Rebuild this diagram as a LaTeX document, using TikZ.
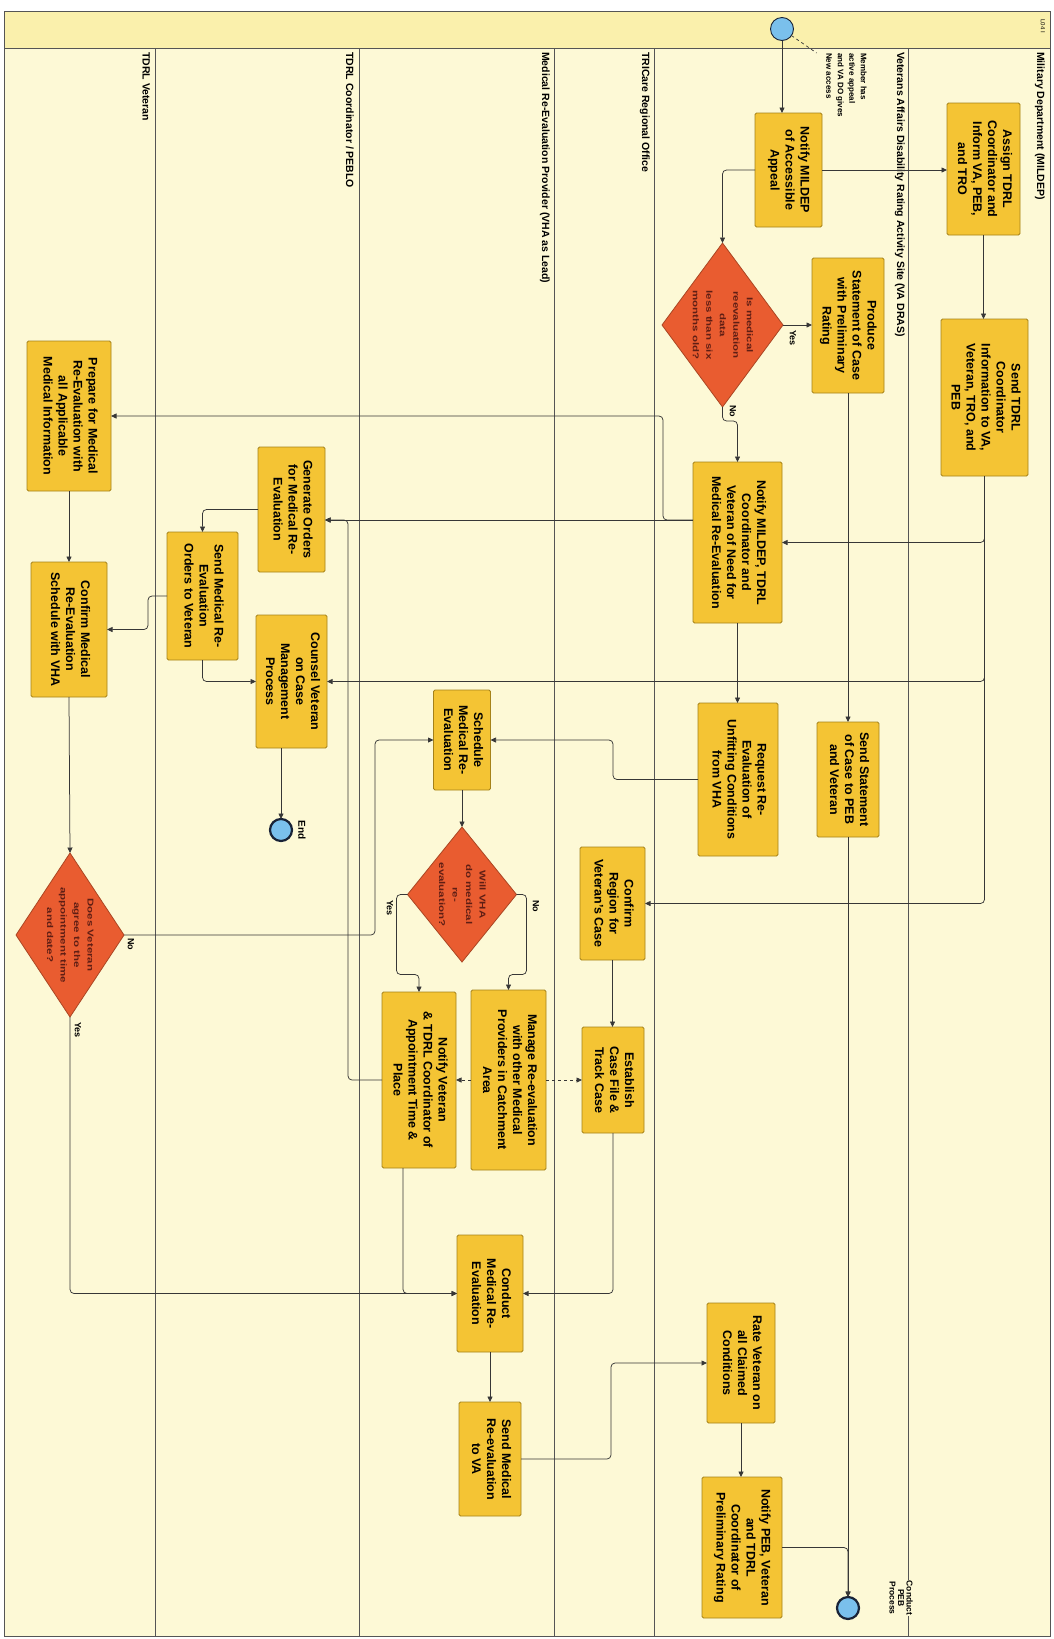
\documentclass[tikz,border=0pt]{standalone}
\usepackage{fontspec}
\setmainfont{Liberation Sans}
\newfontfamily\dfont{Liberation Sans}[FakeStretch=1.35]
\usetikzlibrary{arrows.meta,shapes.geometric,calc}
\definecolor{bg}{RGB}{253,249,214}
\definecolor{hdr}{RGB}{250,240,172}
\definecolor{boxfill}{RGB}{244,196,52}
\definecolor{boxline}{RGB}{165,130,25}
\definecolor{dfill}{RGB}{233,92,48}
\definecolor{dline}{RGB}{170,70,35}
\definecolor{dtextc}{RGB}{95,30,20}
\definecolor{linec}{RGB}{55,55,55}
\definecolor{lanec}{RGB}{85,85,85}
\definecolor{evfill}{RGB}{122,192,236}
\definecolor{evline}{RGB}{25,35,55}
\newcommand{\rt}[1]{\rotatebox{-90}{\begin{tabular}{@{}c@{}}#1\end{tabular}}}
\newcommand{\rtl}[1]{\rotatebox{-90}{\begin{tabular}{@{}l@{}}#1\end{tabular}}}
\begin{document}
\begin{tikzpicture}[x=1pt,y=-1pt,
  task/.style={draw=boxline, fill=boxfill, line width=0.9pt, rounded corners=1.5pt, inner sep=0pt, outer sep=0pt, font=\fontsize{12.5}{15}\selectfont\bfseries},
  decision/.style={diamond, draw=dline, fill=dfill, line width=0.8pt, inner sep=0pt, outer sep=0pt},
  dtext/.style={inner sep=0pt, font=\dfont\fontsize{8.5}{13.5}\selectfont\bfseries, text=dtextc},
  flow/.style={draw=linec, line width=0.75pt, rounded corners=4pt, -{Triangle[length=5.5pt,width=5pt]}},
  msg/.style={flow, dashed},
  lane/.style={draw=lanec, line width=0.7pt},
  lanelbl/.style={inner sep=0pt, font=\fontsize{10.5}{12}\selectfont\bfseries, anchor=north east},
  yn/.style={inner sep=0pt, font=\fontsize{9}{10}\selectfont\bfseries},
  evt/.style={circle, draw=evline, fill=evfill, inner sep=0pt, outer sep=0pt, minimum size=23pt, line width=0.9pt},
  endevt/.style={evt, line width=2.2pt, minimum size=22pt}
]
\useasboundingbox (0,0) rectangle (1053,1639);
\fill[white] (0,0) rectangle (1053,1639);
\draw[fill=bg, draw=lanec, line width=0.8pt] (4,11) rectangle (1050,1636);
\draw[fill=hdr, draw=lanec, line width=0.8pt] (4,11) rectangle (1050,48);
% lane separators
\foreach \lx in {155,359,554,654,908} { \draw[lane] (\lx,48) -- (\lx,1636); }
% lane labels
\node[lanelbl] (l1) at (1045,52) {\rotatebox{-90}{Military Department (MILDEP)}};
\node[lanelbl] (l2) at (905,52) {\rotatebox{-90}{Veterans Affairs Disability Rating Activity Site (VA DRAS)}};
\node[lanelbl] (l3) at (650,52) {\rotatebox{-90}{TRICare Regional Office}};
\node[lanelbl] (l4) at (550,52) {\rotatebox{-90}{Medical Re-Evaluation Provider (VHA as Lead)}};
\node[lanelbl] (l5) at (354,52) {\rotatebox{-90}{TDRL Coordinator / PEBLO}};
\node[lanelbl] (l6) at (150,52) {\rotatebox{-90}{TDRL Veteran}};
\node[inner sep=0pt, font=\fontsize{6}{7}\selectfont] (corner) at (1043,26) {\rotatebox{-90}{L04 I}};

% events
\node[evt] (start) at (782,29) {};
\node[inner sep=0pt, anchor=north east, font=\fontsize{8}{11.5}\selectfont\bfseries] (annot) at (869,53) {\rtl{Member has\\active appeal\\and VA DO gives\\New access}};
\node[endevt] (end) at (281,830) {};
\node[inner sep=0pt, font=\fontsize{10}{12}\selectfont\bfseries, anchor=west] (endlbl) at (298,830) {\rotatebox{-90}{End}};
\node[endevt] (endPEB) at (848,1608) {};
\node[inner sep=1pt, fill=bg, font=\fontsize{8.5}{8.5}\selectfont\bfseries] (peblbl) at (900,1598) {\rt{Conduct\\PEB\\Process}};

% tasks
\node[task, minimum width=67pt, minimum height=114pt] (nAcc) at (788.5,170) {\rt{Notify MILDEP\\of Accessible\\Appeal}};
\node[task, minimum width=73pt, minimum height=132pt] (assign) at (983.5,169) {\rt{Assign TDRL\\Coordinator and\\Inform VA, PEB,\\and TRO}};
\node[task, minimum width=87pt, minimum height=157pt] (sendInfo) at (984.5,397.5) {\rt{Send TDRL\\Coordinator\\Information to VA,\\Veteran, TRO, and\\PEB}};
\node[task, minimum width=72pt, minimum height=135pt] (produce) at (848,325.5) {\rt{Produce\\Statement of Case\\with Preliminary\\Rating}};
\node[task, minimum width=89pt, minimum height=161pt] (nNeed) at (737.5,542.5) {\rt{Notify MILDEP, TDRL\\Coordinator and\\Veteran of Need for\\Medical Re-Evaluation}};
\node[task, minimum width=80pt, minimum height=153pt] (request) at (738,779.5) {\rt{Request Re-\\Evaluation of\\Unfitting Conditions\\from VHA}};
\node[task, minimum width=62pt, minimum height=115pt] (sendStmt) at (848,779.5) {\rt{Send Statement\\of Case to PEB\\and Veteran}};
\node[task, minimum width=65pt, minimum height=113pt] (confReg) at (612.5,903.5) {\rt{Confirm\\Region for\\Veteran's Case}};
\node[task, minimum width=62pt, minimum height=106pt] (estab) at (613,1080) {\rt{Establish\\Case File \&\\Track Case}};
\node[task, minimum width=57pt, minimum height=100pt] (sched) at (462,740) {\rt{Schedule\\Medical Re-\\Evaluation}};
\node[task, minimum width=75pt, minimum height=180pt] (manage) at (508.5,1080) {\rt{Manage Re-evaluation\\with other Medical\\Providers in Catchment\\Area}};
\node[task, minimum width=74pt, minimum height=176pt] (nAppt) at (419,1080) {\rt{Notify Veteran\\\& TDRL Coordinator of\\Appointment Time \&\\Place}};
\node[task, minimum width=66pt, minimum height=117pt] (conduct) at (490,1293.5) {\rt{Conduct\\Medical Re-\\Evaluation}};
\node[task, minimum width=62pt, minimum height=114pt] (sendVA) at (490,1459) {\rt{Send Medical\\Re-evaluation\\to VA}};
\node[task, minimum width=68pt, minimum height=120pt] (rate) at (741,1363) {\rt{Rate Veteran on\\all Claimed\\Conditions}};
\node[task, minimum width=80pt, minimum height=141pt] (nPEB) at (742,1547.5) {\rt{Notify PEB, Veteran\\and TDRL\\Coordinator of\\Preliminary Rating}};
\node[task, minimum width=67pt, minimum height=125pt] (genOrd) at (291.5,509.5) {\rt{Generate Orders\\for Medical Re-\\Evaluation}};
\node[task, minimum width=71pt, minimum height=128pt] (sendOrd) at (202.5,596) {\rt{Send Medical Re-\\Evaluation\\Orders to Veteran}};
\node[task, minimum width=71pt, minimum height=133pt] (counsel) at (291.5,681.5) {\rt{Counsel Veteran\\on Case\\Management\\Process}};
\node[task, minimum width=84pt, minimum height=150pt] (prep) at (69,416) {\rt{Prepare for Medical\\Re-Evaluation with\\all Applicable\\Medical Information}};
\node[task, minimum width=76pt, minimum height=135pt] (confSch) at (69,629.5) {\rt{Confirm Medical\\Re-Evaluation\\Schedule with VHA}};

% decisions
\node[decision, minimum width=121pt, minimum height=164pt] (d1) at (722.5,325) {};
\node[dtext] (d1t) at (d1) {\rt{Is medical\\reevaluation\\data\\less than six\\months old?}};
\node[decision, minimum width=109pt, minimum height=135pt] (d2) at (462,894.5) {};
\node[dtext] (d2t) at (d2) {\rt{Will VHA\\do medical\\re-\\evaluation?}};
\node[decision, minimum width=108pt, minimum height=164pt] (d3) at (70,935) {};
\node[dtext] (d3t) at (d3) {\rt{Does Veteran\\agree to the\\appointment time\\and date?}};

\coordinate (y520) at (0,520);

% connectors
\draw[dashed, draw=linec, line width=0.7pt] (start) -- ([xshift=-6pt]annot.north west);
\draw[flow] (start.south) -- (start.south |- nAcc.north);
\draw[flow] (nAcc.east) -- (nAcc.east -| assign.west);
\draw[flow] (nAcc.west) -| (d1.north);
\draw[flow] (assign.south) -- (assign.south |- sendInfo.north);
\draw[flow] (d1.east) -- (d1.east -| produce.west);
\draw[flow] (d1.south) -- ++(0,14) -| (nNeed.north);
\draw[flow] (sendInfo.south) |- (nNeed.east);
\draw[flow] (sendInfo.south) |- (counsel.east);
\draw[flow] (sendInfo.south) |- (confReg.east);
\draw[flow] (nNeed.south) -- (nNeed.south |- request.north);
\draw[flow] (nNeed.west |- y520) -- (genOrd.east |- y520);
\draw[flow] (nNeed.west |- y520) -- ++(-30,0) |- (prep.east);
\draw[flow] (nAppt.west) -- ++(-34,0) |- (genOrd.east |- y520);
\draw[flow] (genOrd.west) -| (sendOrd.north);
\draw[flow] (sendOrd.west) -- ++(-19,0) |- (confSch.east);
\draw[flow] (sendOrd.south) |- (counsel.west);
\draw[flow] (prep.south) -- (confSch.north);
\draw[flow] (confSch.south) -- (d3.north);
\draw[flow] (d3.east) -- ++(251,0) |- (sched.west);
\draw[flow] (d3.south) |- (conduct.west);
\draw[flow] ([xshift=-16pt]nAppt.south) |- (conduct.west);
\draw[flow] (estab.south) |- (conduct.east);
\draw[flow] (confReg.south) -- (confReg.south |- estab.north);
\draw[flow] (request.west) -- ++(-85,0) |- (sched.east);
\draw[flow] (sched.south) -- (d2.north);
\draw[flow] (d2.east) -- ++(10,0) -- ++(0,80) -| (manage.north);
\draw[flow] (d2.west) -- ++(-11,0) -- ++(0,80) -| (nAppt.north);
\draw[msg] (manage.east) -- (manage.east -| estab.west);
\draw[msg] (manage.west) -- (nAppt.east);
\draw[flow] (conduct.south) -- (conduct.south |- sendVA.north);
\draw[flow] (sendVA.east) -- ++(90,0) |- (rate.west);
\draw[flow] (rate.south) -- (rate.south |- nPEB.north);
\draw[flow] (nPEB.east) -| (endPEB.north);
\draw[flow] (produce.south) -- (sendStmt.north);
\draw[flow] (sendStmt.south) -- (endPEB.north);
\draw[flow] (counsel.south -| end.north) -- (end.north);

% yes / no labels
\node[yn] (y1) at (793,338) {\rotatebox{-90}{Yes}};
\node[yn] (n1) at (733,411) {\rotatebox{-90}{No}};
\node[yn] (n2) at (536,906) {\rotatebox{-90}{No}};
\node[yn] (y2) at (390,908) {\rotatebox{-90}{Yes}};
\node[yn] (n3) at (131,944) {\rotatebox{-90}{No}};
\node[yn] (y3) at (78,1030) {\rotatebox{-90}{Yes}};
\end{tikzpicture}
\end{document}
